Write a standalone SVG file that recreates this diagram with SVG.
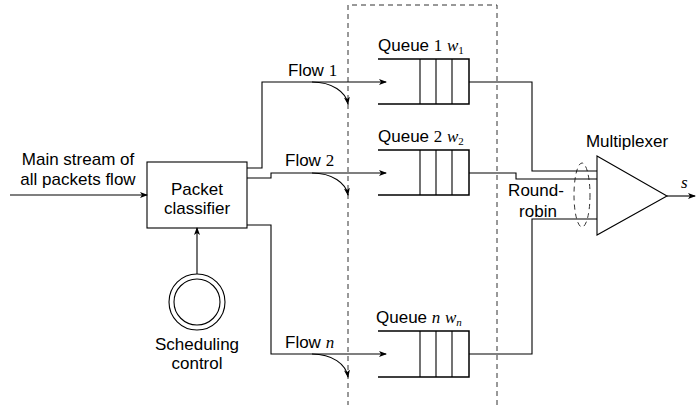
<svg xmlns="http://www.w3.org/2000/svg" width="696" height="405" viewBox="0 0 696 405">
<defs>
<marker id="ah" viewBox="0 0 8 6" refX="7" refY="3" markerWidth="8" markerHeight="6" markerUnits="userSpaceOnUse" orient="auto">
<path d="M0,0 L8,3 L0,6 L2,3 Z" fill="#000"/>
</marker>
</defs>
<style>
.ln{fill:none;stroke:#000;stroke-width:1.1}
.dash{fill:none;stroke:#333;stroke-width:1;stroke-dasharray:5,4}
.q{fill:none;stroke:#000;stroke-width:1.5}
.qd{stroke:#000;stroke-width:1.1}
text{font-family:"Liberation Sans",Arial,sans-serif;font-size:17px;fill:#000}
.m{font-family:"Liberation Serif","Times New Roman",serif;font-size:17px}
.mi{font-family:"Liberation Serif","Times New Roman",serif;font-style:italic;font-size:17px}
.sub{font-size:11px}
</style>
<rect width="696" height="405" fill="#fff"/>

<g id="region">
<path class="dash" d="M348,406 V5 H497 V406"/>
</g>

<g id="input">
<text x="78" y="165" text-anchor="middle">Main stream of</text>
<text x="78" y="185" text-anchor="middle">all packets flow</text>
</g>

<g id="classifier">
<rect x="147" y="162" width="100" height="66" fill="#fff" stroke="#000" stroke-width="1.1"/>
<text x="197" y="195" text-anchor="middle">Packet</text>
<text x="197" y="214" text-anchor="middle">classifier</text>
</g>

<g id="scheduling">
<circle cx="197" cy="302" r="28" fill="none" stroke="#000" stroke-width="1.1"/>
<circle cx="197" cy="302" r="23" fill="none" stroke="#000" stroke-width="1.1"/>
<text x="197" y="350" text-anchor="middle">Scheduling</text>
<text x="197" y="369" text-anchor="middle">control</text>
</g>

<g id="queue1">
<path class="q" d="M378,59 H469 V104 H378"/>
<path class="qd" d="M420,59 V104 M436,59 V104 M452,59 V104"/>
<text x="378" y="51">Queue <tspan class="m">1</tspan> <tspan class="mi">w</tspan><tspan class="m sub" dy="3">1</tspan></text>
</g>

<g id="queue2">
<path class="q" d="M378,150 H469 V195 H378"/>
<path class="qd" d="M420,150 V195 M436,150 V195 M452,150 V195"/>
<text x="378" y="142">Queue <tspan class="m">2</tspan> <tspan class="mi">w</tspan><tspan class="m sub" dy="3">2</tspan></text>
</g>

<g id="queuen">
<path class="q" d="M378,331 H469 V377 H378"/>
<path class="qd" d="M420,331 V377 M436,331 V377 M452,331 V377"/>
<text x="376" y="323">Queue <tspan class="mi">n</tspan> <tspan class="mi">w</tspan><tspan class="mi sub" dy="3">n</tspan></text>
</g>

<g id="multiplexer">
<path d="M597,156 L667,196 L597,235 Z" fill="#fff" stroke="#000" stroke-width="1.1"/>
<text x="627" y="147" text-anchor="middle">Multiplexer</text>
</g>

<g id="roundrobin">
<ellipse cx="582" cy="195" rx="8" ry="32" class="dash"/>
<text x="536" y="196" text-anchor="middle">Round-</text>
<text x="538" y="217" text-anchor="middle">robin</text>
</g>

<g id="connectors">
<path class="ln" d="M10,195 H147" marker-end="url(#ah)"/>
<path class="ln" d="M197,274 V228" marker-end="url(#ah)"/>
<path class="ln" d="M247,168 H262 V82 H386" marker-end="url(#ah)"/>
<path class="ln" d="M247,178 H271 V173 H386" marker-end="url(#ah)"/>
<path class="ln" d="M247,225 H271 V354 H386" marker-end="url(#ah)"/>
<path class="ln" d="M312,82 C332,82 346,92 348,104" marker-end="url(#ah)"/>
<path class="ln" d="M312,173 C332,173 346,183 348,195" marker-end="url(#ah)"/>
<path class="ln" d="M312,354 C332,354 346,364 348,377" marker-end="url(#ah)"/>
<path class="ln" d="M469,82 H532 V171 H597"/>
<path class="ln" d="M469,173 H516 V179 H597"/>
<path class="ln" d="M469,354 H532 V219 H597"/>
<path class="ln" d="M667,196 H695" marker-end="url(#ah)"/>
<text x="288" y="76">Flow <tspan class="m">1</tspan></text>
<text x="285" y="166">Flow <tspan class="m">2</tspan></text>
<text x="285" y="348">Flow <tspan class="mi">n</tspan></text>
<text x="681" y="188" class="mi" font-size="14">s</text>
</g>
</svg>
